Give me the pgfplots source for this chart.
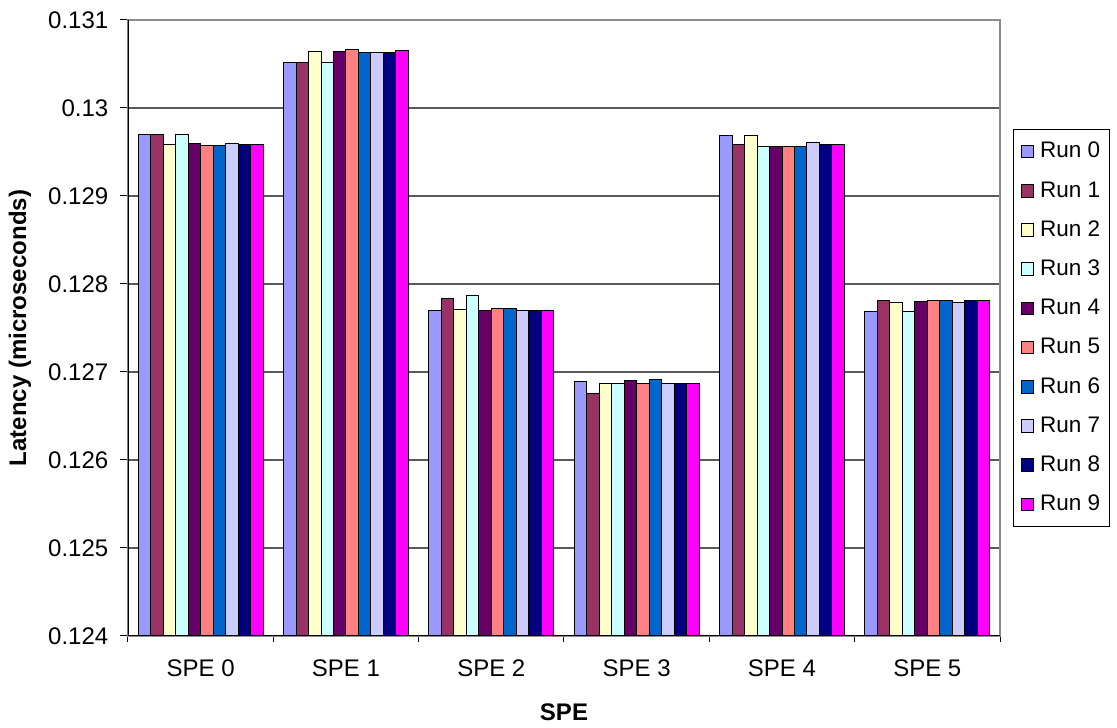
\documentclass[border=0pt]{standalone}
\usepackage{pgfplots}
\usepackage{pgfplotstable}
\pgfplotsset{compat=1.18}
\usepackage{fontspec}
\setmainfont{Liberation Sans}
\definecolor{c0}{HTML}{9999FF}
\definecolor{c1}{HTML}{993366}
\definecolor{c2}{HTML}{FFFFCC}
\definecolor{c3}{HTML}{CCFFFF}
\definecolor{c4}{HTML}{660066}
\definecolor{c5}{HTML}{FF8080}
\definecolor{c6}{HTML}{0066CC}
\definecolor{c7}{HTML}{CCCCFF}
\definecolor{c8}{HTML}{000080}
\definecolor{c9}{HTML}{FF00FF}
\pgfplotstableread{
spe r0 r1 r2 r3 r4 r5 r6 r7 r8 r9
0 0.12970 0.12970 0.12959 0.12970 0.12960 0.12957 0.12957 0.12960 0.12959 0.12959
1 0.13052 0.13052 0.13064 0.13052 0.13064 0.13066 0.13063 0.13063 0.13063 0.13065
2 0.12770 0.12783 0.12771 0.12787 0.12770 0.12772 0.12772 0.12770 0.12770 0.12770
3 0.12689 0.12675 0.12687 0.12687 0.12690 0.12687 0.12692 0.12687 0.12687 0.12687
4 0.12969 0.12959 0.12969 0.12956 0.12956 0.12956 0.12956 0.12961 0.12958 0.12959
5 0.12769 0.12781 0.12779 0.12769 0.12780 0.12781 0.12781 0.12779 0.12781 0.12781
}\data
\pgfplotsset{
  mybar/.style={fill=#1, draw=black, line width=0.5pt,
    legend image code/.code={\draw[fill=#1, draw=black, line width=0.5pt] (0pt,-3.15pt) rectangle (6.3pt,3.15pt);}}
}
\begin{document}
\fontsize{11}{13}\selectfont
\begin{tikzpicture}
\begin{axis}[name=ax, scale only axis, width=436pt, height=308pt,
  ybar=0pt, bar width=0.086,
  xmin=-0.5, xmax=5.5, ymin=0.124, ymax=0.131,
  ytick={0.124,0.125,0.126,0.127,0.128,0.129,0.130,0.131},
  scaled y ticks=false,
  yticklabel style={/pgf/number format/fixed, /pgf/number format/precision=3, xshift=-2pt},
  xticklabel style={yshift=-4pt},
  /pgf/number format/assume math mode=true,
  ymajorgrids, grid style={black!65, line width=0.9pt},
  xtick={0,...,5}, xticklabels={SPE 0,SPE 1,SPE 2,SPE 3,SPE 4,SPE 5},
  minor xtick={-0.5,0.5,...,5.5},
  major x tick style={draw=none},
  minor x tick style={black, line width=0.5pt},
  minor tick length=3pt,
  major y tick style={black, line width=0.5pt},
  major tick length=4pt,
  tick align=outside, xtick pos=bottom, ytick pos=left,
  axis line style={draw=black!45, line width=0.8pt},
  tick label style={font=\fontsize{12}{14}\selectfont},
  every axis y label/.style={at={(axis description cs:-0.124,0.5)}, rotate=90, anchor=center, font=\bfseries\fontsize{12}{14}\selectfont},
  every axis x label/.style={at={(axis description cs:0.5,-0.123)}, anchor=center, font=\bfseries\fontsize{12}{14}\selectfont},
  xlabel={SPE}, ylabel={Latency (microseconds)},
  legend style={at={(1.015,0.5)}, anchor=west, draw=black, line width=0.5pt,
    font=\fontsize{11.25}{13}\selectfont, row sep=7.3pt, column sep=2pt,
    inner xsep=3.5pt, inner ysep=5pt,
    nodes={inner sep=1pt, text height=8.3pt, text depth=2pt}},
  legend cell align=left,
]
\addplot[mybar=c0] table[x=spe, y=r0] {\data};
\addplot[mybar=c1] table[x=spe, y=r1] {\data};
\addplot[mybar=c2] table[x=spe, y=r2] {\data};
\addplot[mybar=c3] table[x=spe, y=r3] {\data};
\addplot[mybar=c4] table[x=spe, y=r4] {\data};
\addplot[mybar=c5] table[x=spe, y=r5] {\data};
\addplot[mybar=c6] table[x=spe, y=r6] {\data};
\addplot[mybar=c7] table[x=spe, y=r7] {\data};
\addplot[mybar=c8] table[x=spe, y=r8] {\data};
\addplot[mybar=c9] table[x=spe, y=r9] {\data};
\legend{Run 0,Run 1,Run 2,Run 3,Run 4,Run 5,Run 6,Run 7,Run 8,Run 9}
\draw[black, line width=0.8pt] (rel axis cs:0,1) -- (rel axis cs:0,0) -- (rel axis cs:1,0);
\end{axis}
\path (ax.south west) ++(-64pt,-45.5pt) rectangle ([xshift=58.5pt,yshift=10pt]ax.north east);
\end{tikzpicture}
\end{document}
